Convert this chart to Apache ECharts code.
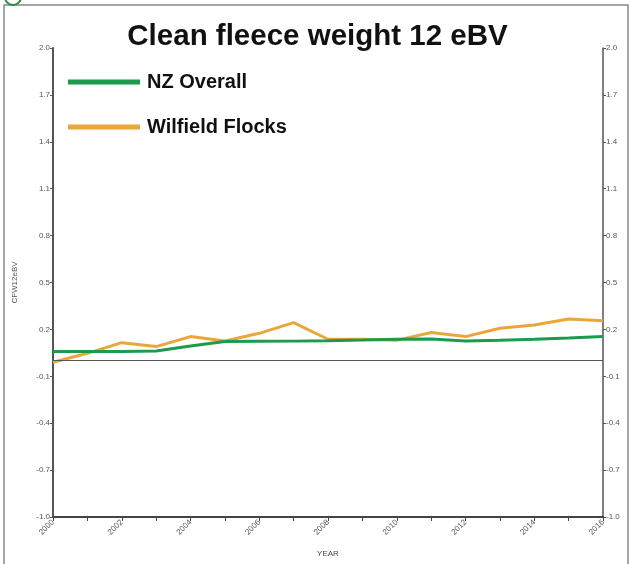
<!DOCTYPE html>
<html>
<head>
<meta charset="utf-8">
<script src="https://cdn.jsdelivr.net/npm/echarts@6/dist/echarts.min.js"></script>
<style>
html,body{margin:0;padding:0;background:#fff;}
#chart{width:635px;height:564px;}
</style>
</head>
<body>
<div id="chart"></div>
<script>
// years on the x axis
var years=['2000','2001','2002','2003','2004','2005','2006','2007','2008','2009','2010','2011','2012','2013','2014','2015','2016'];
// NZ Overall eBV
var nzOverall=[0.058,0.058,0.058,0.062,0.094,0.122,0.124,0.125,0.128,0.132,0.137,0.139,0.126,0.130,0.137,0.145,0.154];
// Wilfield Flocks eBV
var wilfield=[-0.01,0.047,0.115,0.09,0.154,0.126,0.175,0.243,0.137,0.137,0.13,0.18,0.154,0.207,0.228,0.267,0.256];
var yMin=-1.0, yMax=2.0, yStep=0.3;

var font="'Liberation Sans',Arial,sans-serif";
var chart=echarts.init(document.getElementById('chart'));

function yAxisCfg(pos){
    return {
        type:'value',
        position:pos,
        min:yMin,
        max:yMax,
        interval:yStep,
        axisLine:{show:true,lineStyle:{color:'#555',width:pos=='left'?2:1.5}},
        axisTick:{show:true,length:3,lineStyle:{color:'#555'}},
        axisLabel:{
            color:'#555',fontSize:8,fontFamily:font,margin:3,
            formatter:function(v){return v.toFixed(1);}
        },
        splitLine:{show:false}
    };
}

var option={
    animation:false,
    title:{
        text:'Clean fleece weight 12 eBV',
        left:'center',
        top:17,
        textStyle:{color:'#111',fontSize:29.5,fontWeight:'bold',fontFamily:font}
    },
    legend:{
        orient:'vertical',
        left:63,
        top:67,
        icon:'rect',
        itemWidth:72,
        itemHeight:5,
        itemGap:25,
        textStyle:{color:'#111',fontSize:20,fontWeight:'bold',fontFamily:font,padding:[0,0,0,2]},
        data:['NZ Overall','Wilfield Flocks']
    },
    grid:{left:53,right:32,top:48,bottom:47},
    xAxis:{
        type:'category',
        data:years,
        boundaryGap:false,
        name:'YEAR',
        nameLocation:'middle',
        nameGap:33,
        nameTextStyle:{color:'#444',fontSize:8,fontFamily:font},
        axisLine:{onZero:false,lineStyle:{color:'#444',width:2}},
        axisTick:{show:true,interval:0,length:4,lineStyle:{color:'#444'}},
        axisLabel:{interval:1,rotate:45,color:'#555',fontSize:8,fontFamily:font,margin:4}
    },
    yAxis:[
        Object.assign(yAxisCfg('left'),{
            name:'CFW12eBV',
            nameLocation:'middle',
            nameGap:34,
            nameTextStyle:{color:'#555',fontSize:8,fontFamily:font}
        }),
        yAxisCfg('right')
    ],
    series:[
        {
            name:'NZ Overall',
            type:'line',
            data:nzOverall,
            showSymbol:false,
            lineStyle:{width:3,color:'#1e9a4c'},
            itemStyle:{color:'#1e9a4c'},
            z:3,
            markLine:{
                silent:true,
                symbol:'none',
                label:{show:false},
                lineStyle:{color:'#555',width:1,type:'solid'},
                data:[{yAxis:0}]
            }
        },
        {
            name:'Wilfield Flocks',
            type:'line',
            data:wilfield,
            showSymbol:false,
            lineStyle:{width:3,color:'#eaa63a'},
            itemStyle:{color:'#eaa63a'},
            z:2
        }
    ],
    graphic:[
        {type:'rect',shape:{x:4,y:5,width:624,height:570},style:{fill:'none',stroke:'#888',lineWidth:1.5}},
        {type:'circle',shape:{cx:13,cy:-3,r:8},style:{fill:'#fff',stroke:'#2a8a3a',lineWidth:2}}
    ]
};
chart.setOption(option);
</script>
</body>
</html>
